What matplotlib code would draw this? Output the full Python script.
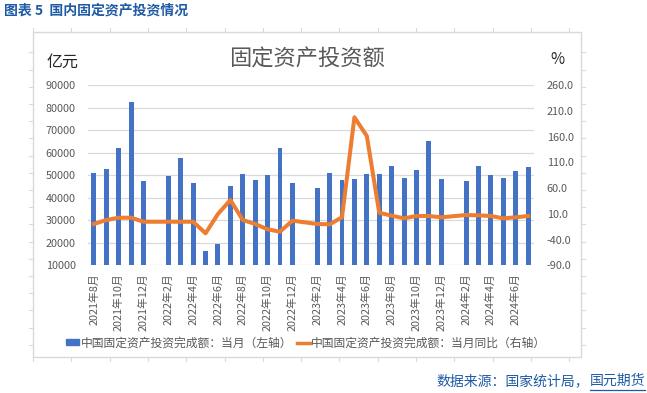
import numpy as np
import matplotlib
matplotlib.use("Agg")
import matplotlib.pyplot as plt
import matplotlib.patches as patches
from matplotlib.lines import Line2D
from matplotlib.ticker import FormatStrFormatter

plt.rcParams['font.family'] = ['Noto Sans CJK SC', 'DejaVu Sans']

# monthly categories 2021-08 .. 2024-07 (January has no data)
months = []
for y in (2021, 2022, 2023, 2024):
    for m in range(1, 13):
        if (y, m) >= (2021, 8) and (y, m) <= (2024, 7):
            months.append(f"{y}年{m}月")

# 中国固定资产投资完成额：当月 (亿元)
invest = [50800, 52700, 62000, 82400, 47300,
          None, 49600, 57600, 46400, 16200, 19500, 45100, 50400, 47800, 50000, 62000, 46400,
          None, 44200, 50900, 47800, 48400, 50400, 50400, 54000, 48800, 52400, 65100, 48400,
          None, 47300, 54000, 50000, 48800, 51900, 53600]

# 当月同比 (%)
yoy = [-9.8, -2.1, 2.4, 2.4, -5.4,
       None, -5.4, -5.4, -5.4, -27.9, 9.6, 36.8, -2.1, -9.8, -20.1, -24.8, -3.4,
       None, -9.8, -10.4, 3.2, 197.3, 161.0, 12.1, 6.3, 1.2, 5.7, 5.7, 3.2,
       None, 7.6, 7.0, 5.7, 1.2, 3.2, 5.7]

bar_label = "中国固定资产投资完成额：当月（左轴）"
line_label = "中国固定资产投资完成额：当月同比（右轴）"

BLUE = "#4472C4"
ORANGE = "#ED7D31"
GREY = "#595959"
GRID = "#D9D9D9"
HEAD = "#1F5AA6"

W, H = 647, 393
fig = plt.figure(figsize=(W / 100, H / 100), dpi=100)

def fx(px):
    return px / W

def fy(py):
    return 1 - py / H

# chart frame with the sheet gridline stubs
fig.add_artist(patches.Rectangle((fx(33), fy(357)), fx(581 - 33), (357 - 32) / H,
                                 transform=fig.transFigure, fill=False, ec=GRID, lw=1.0))
for cx in np.arange(33, 581, 38.3):
    fig.add_artist(Line2D([fx(cx), fx(cx)], [fy(32), fy(28)], color=GRID, lw=0.8))
    fig.add_artist(Line2D([fx(cx), fx(cx)], [fy(357), fy(361)], color=GRID, lw=0.8))
for ry in np.arange(52.3, 357, 17.2):
    fig.add_artist(Line2D([fx(29), fx(33)], [fy(ry), fy(ry)], color=GRID, lw=0.8))
    fig.add_artist(Line2D([fx(581), fx(585)], [fy(ry), fy(ry)], color=GRID, lw=0.8))

ax = fig.add_axes([fx(87.7), fy(265.3), fx(534.3 - 87.7), (265.3 - 85) / H])
x = np.arange(len(months))
inv = np.array([np.nan if v is None else v for v in invest], dtype=float)
yy = np.array([np.nan if v is None else v for v in yoy], dtype=float)

mb = ~np.isnan(inv)
ax.bar(x[mb], inv[mb], width=0.4, color=BLUE, zorder=2)
ax.set_xlim(-0.5, len(months) - 0.5)
ax.set_ylim(10000, 90000)
ax.set_yticks(np.arange(10000, 90001, 10000))
ax.yaxis.grid(True, color=GRID, lw=0.9)
ax.set_axisbelow(True)
for s in ax.spines.values():
    s.set_visible(False)
ax.tick_params(axis='both', length=0, colors=GREY, labelsize=7.8)
ax.tick_params(axis='y', pad=8.5)
ax.set_xticks(x[::2])
ax.set_xticklabels(months[::2], rotation=90, va='top', ha='center')
ax.tick_params(axis='x', pad=5.5)

ax2 = ax.twinx()
ml = ~np.isnan(yy)
ax2.plot(x[ml], yy[ml], color=ORANGE, lw=2.9, solid_joinstyle='round', zorder=3)
ax2.set_ylim(-90, 260)
ax2.set_yticks(np.arange(-90, 261, 50))
ax2.yaxis.set_major_formatter(FormatStrFormatter('%.1f'))
ax2.tick_params(axis='y', length=0, colors=GREY, labelsize=7.8, pad=9)
for s in ax2.spines.values():
    s.set_visible(False)

# texts
fig.text(fx(4), fy(11), "图表 5  国内固定资产投资情况", color=HEAD, fontsize=10,
         fontweight='bold', ha='left', va='center')
fig.text(fx(307), fy(59), "固定资产投资额", color=GREY, fontsize=16, ha='center', va='center')
fig.text(fx(47), fy(62), "亿元", color='#262626', fontsize=11.5, ha='left', va='center')
fig.text(fx(557), fy(60), "%", color='#262626', fontsize=11, ha='center', va='center')

handles = [patches.Rectangle((0, 0), 1, 1, color=BLUE),
           Line2D([0], [0], color=ORANGE, lw=2.5)]
fig.legend(handles, [bar_label, line_label], loc='center', ncol=2,
           bbox_to_anchor=(fx(306), fy(343)), frameon=False, fontsize=8.5,
           labelcolor=GREY, handlelength=1.1, handleheight=0.4,
           handletextpad=0.15, columnspacing=0.4)

# footer, last part underlined
t2 = fig.text(fx(645), fy(381), "国元期货", color=HEAD, fontsize=10, ha='right', va='center')
r = fig.canvas.get_renderer()
bb = t2.get_window_extent(renderer=r)
fig.text(bb.x0 / W, fy(381), "数据来源：国家统计局，", color=HEAD, fontsize=10,
         ha='right', va='center')
fig.add_artist(Line2D([bb.x0 / W, bb.x1 / W], [fy(389.5), fy(389.5)], color=HEAD, lw=0.9))

fig.savefig("out.png", dpi=100)
